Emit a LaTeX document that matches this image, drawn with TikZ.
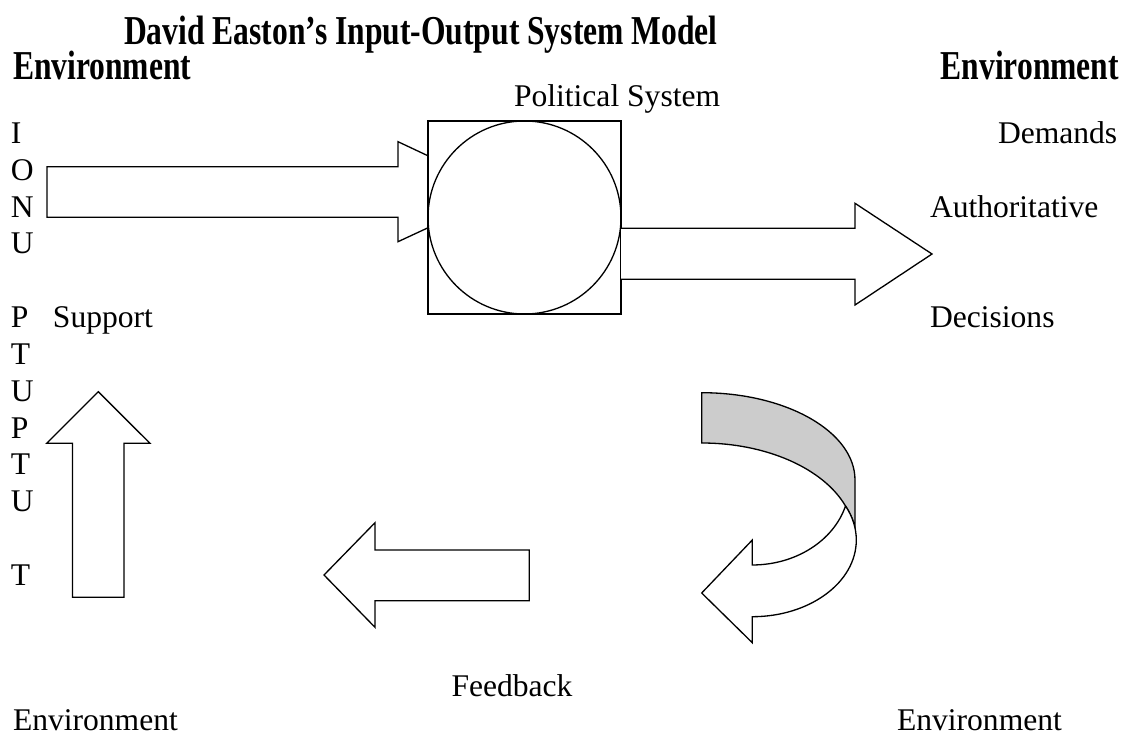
\documentclass[tikz,border=0pt]{standalone}
\usepackage{fontspec}
\setmainfont{Liberation Serif}
\begin{document}
\begin{tikzpicture}[x=0.38pt, y=-0.38pt,
  font=\fontsize{12}{14}\selectfont,
  lbl/.style={anchor=base west, inner sep=0pt, outer sep=0pt},
  headline/.style={lbl, font=\fontsize{12}{14}\selectfont\bfseries, yscale=1.3},
  shapeline/.style={draw=black, line width=0.5pt, line join=miter}]
\useasboundingbox (0,0) rectangle (1125,735);

% headings
\node[headline, anchor=base] (title) at (421,44) {David Easton’s Input-Output System Model};
\node[headline] (envTL) at (13,79) {Environment};
\node[headline, anchor=base east] (envTR) at (1119,79) {Environment};
\node[lbl] (polsys) at (514,106) {Political System};

% vertical letter column on the left
\foreach \k/\c in {0/I,1/O,2/N,3/U,5/P,6/T,7/U,8/P,9/T,10/U,12/T}
  \node[lbl] (col\k) at (11,{143.3+36.85*\k}) {\c};

% side labels
\node[lbl] (support) at (53,327.5) {Support};
\node[lbl] (demands) at (998,143.3) {Demands};
\node[lbl] (auth) at (930,217) {Authoritative};
\node[lbl] (decis) at (930,327.5) {Decisions};
\node[lbl] (feedback) at (451.5,696) {Feedback};
\node[lbl] (envBL) at (13,730) {Environment};
\node[lbl] (envBR) at (897,730) {Environment};

% input arrow into the system
\draw[shapeline, fill=white] (47,166.7) -- (398,166.7) -- (398,141.7) -- (505,192)
  -- (398,241.7) -- (398,217.3) -- (47,217.3) -- cycle;

% political system: square with inscribed circle
\draw[shapeline, fill=white] (428,121) rectangle (621,314);
\draw[shapeline] (524.5,217.5) circle[radius=96.5];

% output arrow
\draw[shapeline, fill=white] (621,228.3) -- (855,228.3) -- (855,203.3) -- (932,254)
  -- (855,305) -- (855,279.3) -- (621,279.3);

% support arrow pointing up
\draw[shapeline, fill=white] (72.5,597.3) -- (72.5,443.3) -- (46.7,443.3) -- (98.3,391.7)
  -- (150,443.3) -- (124,443.3) -- (124,597.3) -- cycle;

% feedback arrow pointing left
\draw[shapeline, fill=white] (529.3,550) -- (375,550) -- (375,522.7) -- (324,575)
  -- (375,627.3) -- (375,600.7) -- (529.3,600.7) -- cycle;

% curved ribbon arrow: shaded back face
\draw[shapeline, fill=gray!40] (701.7,392.7)
  arc[start angle=-90, end angle=0, x radius=153.3, y radius=87.3]
  -- (855,528)
  arc[start angle=-9, end angle=-26.3, x radius=104, y radius=76.7]
  arc[start angle=-20.3, end angle=-90, x radius=153.3, y radius=96.5]
  -- cycle;
% curved ribbon arrow: front face with head
\draw[shapeline, fill=white] (845.5,506)
  arc[start angle=16.1, end angle=90, x radius=97, y radius=81.6]
  -- (752.3,540) -- (701.7,593) -- (752.3,642.7) -- (752.3,616.7)
  arc[start angle=90, end angle=-26.3, x radius=104, y radius=76.7]
  -- cycle;
\end{tikzpicture}
\end{document}
